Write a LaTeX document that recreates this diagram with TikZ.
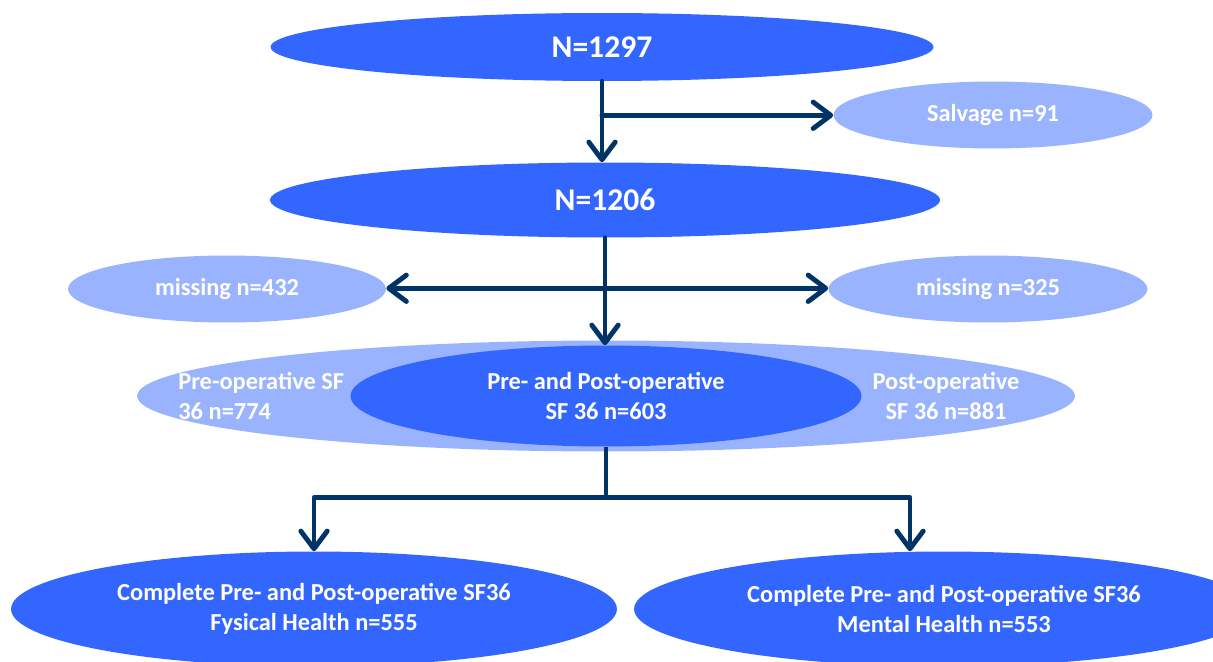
\documentclass[tikz,border=0pt]{standalone}
\usepackage{fontspec}
\setmainfont{Carlito}
\usetikzlibrary{shapes.geometric,arrows.meta,calc}
\definecolor{darkblue}{RGB}{51,102,255}
\definecolor{lightblue}{RGB}{153,179,255}
\definecolor{navy}{RGB}{0,51,102}

\begin{document}
\begin{tikzpicture}[x=0.02cm,y=-0.02cm,
  dark/.style={ellipse, fill=darkblue, text=white, inner sep=0pt, align=center, font=\bfseries\fontsize{13.9}{17}\selectfont},
  light/.style={ellipse, fill=lightblue, text=white, inner sep=0pt, align=center, font=\bfseries\fontsize{13.9}{17}\selectfont},
  label/.style={text=white, inner sep=0pt, font=\bfseries\fontsize{13.9}{17}\selectfont},
  link/.style={navy, line width=2.8pt, line cap=round, line join=round, -{Straight Barb[length=10pt,width=15pt,line cap=round,line join=round]}}]
\useasboundingbox (0,0) rectangle (1213,662);
\clip (0,0) rectangle (1213,662);

% top
\node [dark, minimum width=13.26cm, minimum height=1.36cm, font=\bfseries\fontsize{18}{20}\selectfont] (n1297) at (602,47) {N=1297};
\node [light, minimum width=6.38cm, minimum height=1.34cm] (salvage) at (993,115) {Salvage n=91};
\node [dark, minimum width=13.4cm, minimum height=1.5cm, font=\bfseries\fontsize{18}{20}\selectfont] (n1206) at (605,200) {N=1206};

% missing
\node [light, minimum width=6.36cm, minimum height=1.34cm] (miss432) at (227,289) {missing n=432};
\node [light, minimum width=6.38cm, minimum height=1.34cm] (miss325) at (988,289) {missing n=325};

% SF 36
\node [light, minimum width=18.76cm, minimum height=2.22cm] (sfall) at (606,396) {};
\node [label, anchor=west, align=left] (preonly) at (178,396) {Pre-operative SF\\36 n=774};
\node [label, align=center] (postonly) at (946,396) {Post-operative\\SF 36 n=881};
\node [dark, minimum width=10.22cm, minimum height=2.02cm] (both) at (606,396) {Pre- and Post-operative\\SF 36 n=603};

% bottom
\node [dark, minimum width=12.12cm, minimum height=2.3cm] (fysical) at (314,609) {Complete Pre- and Post-operative SF36\\Fysical Health n=555};
\node [dark, minimum width=12.4cm, minimum height=2.3cm] (mental) at (944,609) {Complete Pre- and Post-operative SF36\\Mental Health n=553};

% arrows
\coordinate (s1) at ($(n1297.south)!0.42!(n1297.south |- n1206.north)$);
\draw [link] (n1297.south) -- (n1297.south |- n1206.north);
\draw [link] (s1) -- (s1 -| salvage.west);
\coordinate (s2) at ($(n1206.south)!0.47!(n1206.south |- both.north)$);
\draw [link] (n1206.south) -- (n1206.south |- both.north);
\draw [link] (s2) -- (s2 -| miss432.east);
\draw [link] (s2) -- (s2 -| miss325.west);
\coordinate (s3) at ($(both.south)+(0,51)$);
\draw [navy, line width=2.8pt] (both.south) -- (s3);
\draw [link] (s3) -| (fysical.north);
\draw [link] (s3) -| ($(mental.north)+(-34,0)$);
\end{tikzpicture}
\end{document}
